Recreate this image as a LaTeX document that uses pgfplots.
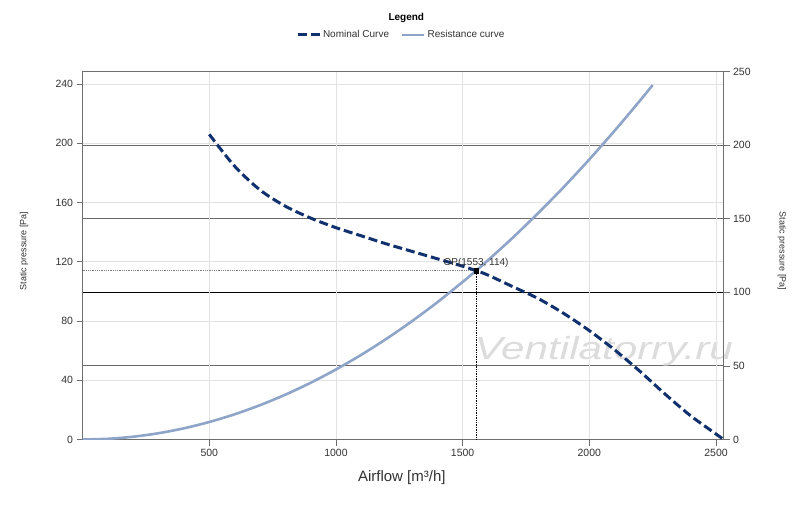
\documentclass[border=0pt]{standalone}
\usepackage{fontspec}
\setmainfont{Liberation Sans}
\usepackage{pgfplots}
\pgfplotsset{compat=1.18}
\definecolor{nomblue}{RGB}{16,48,110}
\definecolor{resblue}{RGB}{142,164,200}
\definecolor{lightgrid}{RGB}{226,226,226}
\definecolor{darkgrid}{RGB}{105,105,105}
\definecolor{axisgray}{RGB}{110,110,110}
\definecolor{ticktext}{RGB}{50,50,50}
\definecolor{wmark}{RGB}{220,220,220}

\begin{document}
\begin{tikzpicture}
\useasboundingbox (0,0) rectangle (800pt,507pt);
\pgfplotsset{
  common/.style={
    at={(82.6pt,67.5pt)}, anchor=south west,
    scale only axis, width=641pt, height=367.8pt,
    xmin=0, xmax=2530,
    clip mode=individual,
    tick align=outside,
    major tick length=6pt,
    tick style={axisgray, line width=0.8pt},
    tick label style={font=\fontsize{10.5}{12}\selectfont, text=ticktext},
    /pgf/number format/assume math mode=true,
    /pgf/number format/1000 sep={},
    scaled ticks=false,
    axis line style={axisgray, line width=0.8pt},
  }
}
% right axis: dark grid lines and right ticks
\begin{axis}[common,
  ymin=0, ymax=250,
  axis y line*=right, axis x line*=bottom,
  xtick=\empty,
  ytick={0,50,...,250},
  ymajorgrids,
  every axis y grid/.append style={darkgrid, line width=0.9pt},
  ylabel={Static pressure [Pa]},
  ylabel style={at={(axis description cs:1.091,0.5125)}, anchor=center, rotate=180, font=\fontsize{9}{10}\selectfont, text=ticktext},
]
\node[anchor=base, text=wmark, font=\fontsize{32}{34}\selectfont\itshape] at (axis description cs:0.813,0.218) {\scalebox{1.32}[1]{Ventilatorry.ru}};
\draw[black, line width=0.9pt] (axis cs:0,100) -- (axis cs:2530,100);
\end{axis}
% left axis with the data
\begin{axis}[common,
  ymin=0, ymax=248.3,
  xtick pos=bottom, ytick pos=left,
  xtick={500,1000,...,2500},
  ytick={0,40,...,240},
  grid=major,
  grid style={lightgrid, line width=0.8pt},
  xlabel={Airflow [m³/h]},
  xlabel style={at={(axis description cs:0.498,-0.1047)}, anchor=center, font=\fontsize{15}{16}\selectfont, text=ticktext},
  ylabel={Static pressure [Pa]},
  ylabel style={at={(axis description cs:-0.0914,0.5125)}, anchor=center, font=\fontsize{9}{10}\selectfont, text=ticktext},
  legend style={at={(axis description cs:0.497,1.1)}, anchor=center, draw=none, fill=none,
    legend columns=2, font=\fontsize{10}{12}\selectfont, text=ticktext,
    /tikz/every even column/.append style={column sep=10pt}},
  legend image code/.code={\draw[#1] (0pt,0pt) -- (22pt,0pt);},
]
\addlegendimage{nomblue, line width=3pt, dash pattern=on 9pt off 4pt}
\addlegendentry{Nominal Curve}
\addlegendimage{resblue, line width=2.5pt}
\addlegendentry{Resistance curve}

% operating point guides
\addplot[forget plot, gray, line width=0.8pt, densely dotted] coordinates {(0,114) (1553,114)};
\addplot[forget plot, black, line width=0.7pt, densely dotted] coordinates {(1553,0) (1553,114)};

% resistance curve
\addplot[forget plot, resblue, line width=2.6pt, smooth] coordinates {
(0,0) (100,0.47) (200,1.89) (300,4.25) (400,7.56) (500,11.82) (600,17.02)
(700,23.16) (800,30.25) (900,38.29) (1000,47.27) (1100,57.19) (1200,68.06)
(1300,79.88) (1400,92.64) (1500,106.35) (1553,114) (1600,121.0) (1700,136.6)
(1800,153.2) (1900,170.6) (2000,189.1) (2100,208.5) (2200,228.8) (2250,239.3)
};

% nominal curve
\addplot[forget plot, nomblue, line width=3pt, dash pattern=on 9pt off 4pt, smooth] coordinates {
(500,206) (600,184.5) (700,168.5) (800,157.5) (900,149.5) (1000,143)
(1100,137.5) (1200,132) (1300,127) (1400,122) (1500,117) (1553,114)
(1600,111) (1700,103) (1800,95) (1900,85) (2000,73.5) (2100,60.5)
(2200,46) (2300,30.5) (2400,16) (2500,3.7) (2530,0)
};

% operating point
\addplot[forget plot, only marks, mark=square*, mark size=2.2pt, black] coordinates {(1553,114)};
\node[anchor=south, font=\fontsize{10}{12}\selectfont, text=ticktext, inner sep=1pt, yshift=2pt] at (axis cs:1553,114) {OP(1553, 114)};

\node[font=\bfseries\fontsize{10}{12}\selectfont, text=black] at (axis description cs:0.505,1.145) {Legend};
\end{axis}
\end{tikzpicture}
\end{document}
